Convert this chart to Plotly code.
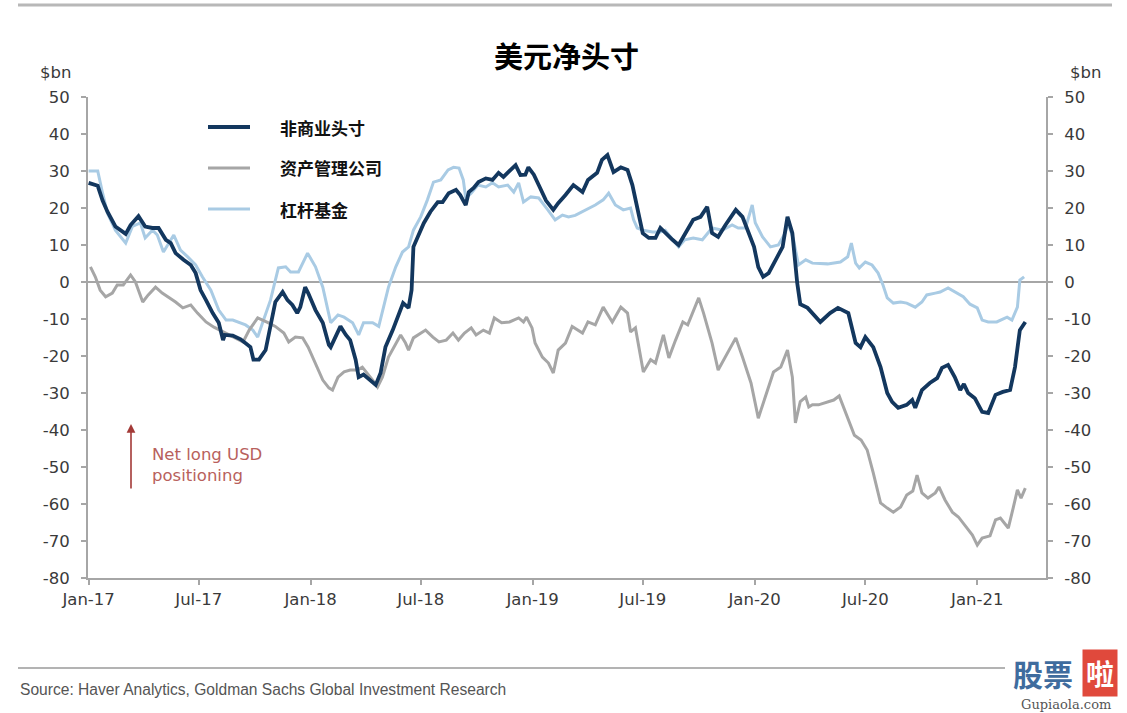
import plotly.graph_objects as go

# ---------------- data ----------------
ncp_dates = ["2017-01-01","2017-01-16","2017-01-24","2017-02-01","2017-02-14","2017-03-03","2017-03-11","2017-03-24",
"2017-04-04","2017-04-16","2017-04-26","2017-05-08","2017-05-16","2017-05-24","2017-06-06","2017-06-18","2017-06-26",
"2017-07-04","2017-07-13","2017-07-24","2017-08-03","2017-08-10","2017-08-13","2017-08-26","2017-09-08","2017-09-16",
"2017-09-24","2017-09-29","2017-10-08","2017-10-19","2017-10-27","2017-11-04","2017-11-16","2017-11-24","2017-12-02",
"2017-12-10","2017-12-15","2017-12-23","2017-12-28","2018-01-09","2018-01-21","2018-01-31","2018-02-03","2018-02-11",
"2018-02-19","2018-02-28","2018-03-07","2018-03-16","2018-03-21","2018-03-29","2018-04-06","2018-04-18","2018-04-26",
"2018-05-04","2018-05-16","2018-05-24","2018-06-02","2018-06-11","2018-06-16","2018-06-19","2018-06-26","2018-07-06",
"2018-07-17","2018-07-29","2018-08-06","2018-08-16","2018-08-28","2018-09-04","2018-09-13","2018-09-18","2018-09-26",
"2018-10-04","2018-10-16","2018-10-27","2018-11-06","2018-11-14","2018-11-22","2018-12-04","2018-12-12","2018-12-20",
"2018-12-25","2019-01-03","2019-01-11","2019-01-23","2019-02-04","2019-02-12","2019-02-24","2019-03-09","2019-03-24",
"2019-04-02","2019-04-17","2019-04-25","2019-05-04","2019-05-14","2019-05-26","2019-06-06","2019-06-14","2019-06-22",
"2019-07-01","2019-07-11","2019-07-22","2019-07-30","2019-08-07","2019-08-19","2019-08-29","2019-09-08","2019-09-22",
"2019-10-04","2019-10-15","2019-10-23","2019-11-02","2019-11-14","2019-12-01","2019-12-12","2019-12-22","2019-12-31",
"2020-01-07","2020-01-15","2020-01-24","2020-02-04","2020-02-16","2020-02-24","2020-03-03","2020-03-11","2020-03-16",
"2020-03-28","2020-04-10","2020-04-18","2020-05-04","2020-05-17","2020-06-03","2020-06-15","2020-06-23","2020-07-01",
"2020-07-14","2020-07-26","2020-08-06","2020-08-14","2020-08-24","2020-09-07","2020-09-16","2020-09-21","2020-10-02",
"2020-10-15","2020-10-27","2020-11-04","2020-11-14","2020-11-25","2020-12-04","2020-12-10","2020-12-17","2020-12-28",
"2021-01-09","2021-01-19","2021-01-31","2021-02-12","2021-02-24","2021-03-04","2021-03-12","2021-03-21"]
ncp_values = [26.8,26,22,19,15,13,15.4,17.8,
15,14.6,14.6,11.4,10.5,7.8,6,4.6,2.4,
-2.2,-4.9,-8.4,-11,-15.7,-14.3,-14.5,-15.5,-16.5,
-17.6,-21,-21,-18.4,-12,-5.4,-2.7,-4.9,-6.2,
-8.4,-6.8,-1.4,-3,-7.6,-11,-17,-17.6,-15,
-12,-14.3,-15.7,-21,-25.7,-25,-26,-27.8,-24.6,
-17.6,-13,-9.5,-5.7,-7,-2.2,9.5,12.2,15.9,
19,21.6,21.6,24,24.9,23.5,20.8,24.3,25.4,
27,28,27.6,29.5,28.4,29.7,31.6,28.9,29,
31,29,26.2,22,19.5,21.3,23.5,26.2,24.3,
27.6,29.5,33,34.3,29.7,31,30.3,26.2,19.5,
13.2,11.9,11.9,14.6,13.2,11.4,10,12.7,16.8,
17.6,20.3,13.2,12.2,15.4,19.5,17.6,13.2,9.5,
4,1.4,2.4,6,9.5,17.6,13.2,-0.3,-6,
-7,-9.5,-10.8,-8.4,-7,-8.4,-16.5,-17.6,-14.9,
-17.6,-23,-30,-32.4,-34,-33.2,-31.9,-34,-29.2,
-27.3,-26,-23.2,-22.4,-25.7,-29.2,-27.6,-30,-31.4,
-35.1,-35.4,-30.5,-29.7,-29.2,-23,-13,-10.8]

am_dates = ["2017-01-04","2017-01-12","2017-01-20","2017-01-29","2017-02-09","2017-02-17","2017-02-27","2017-03-11",
"2017-03-19","2017-03-31","2017-04-09","2017-04-21","2017-05-02","2017-05-12","2017-05-24","2017-06-05","2017-06-18",
"2017-06-29","2017-07-13","2017-07-26","2017-08-10","2017-08-26","2017-09-12","2017-09-22","2017-10-06","2017-10-23",
"2017-11-04","2017-11-18","2017-11-26","2017-12-07","2017-12-19","2017-12-28","2018-01-09","2018-01-21","2018-01-31",
"2018-02-06","2018-02-15","2018-02-25","2018-03-07","2018-03-19","2018-03-27","2018-04-04","2018-04-13","2018-04-21",
"2018-04-29","2018-05-09","2018-05-21","2018-05-29","2018-06-06","2018-06-11","2018-06-19","2018-07-01","2018-07-09",
"2018-07-21","2018-07-31","2018-08-12","2018-08-23","2018-09-01","2018-09-11","2018-09-22","2018-09-30","2018-10-12",
"2018-10-22","2018-10-30","2018-11-11","2018-11-24","2018-12-09","2018-12-17","2018-12-22","2018-12-31","2019-01-05",
"2019-01-17","2019-01-27","2019-02-04","2019-02-12","2019-02-24","2019-03-07","2019-03-24","2019-04-02","2019-04-14",
"2019-04-27","2019-05-12","2019-05-26","2019-06-06","2019-06-11","2019-06-19","2019-07-02","2019-07-14","2019-07-22",
"2019-08-04","2019-08-13","2019-08-24","2019-09-05","2019-09-13","2019-09-21","2019-10-01","2019-10-09","2019-10-23",
"2019-11-02","2019-11-14","2019-12-01","2019-12-12","2019-12-26","2020-01-07","2020-01-19","2020-02-01","2020-02-13",
"2020-02-24","2020-03-03","2020-03-08","2020-03-16","2020-03-25","2020-03-30","2020-04-05","2020-04-15","2020-04-30",
"2020-05-10","2020-05-19","2020-06-02","2020-06-13","2020-06-24","2020-07-04","2020-07-14","2020-07-26","2020-08-06",
"2020-08-16","2020-08-28","2020-09-07","2020-09-17","2020-09-24","2020-10-02","2020-10-12","2020-10-24","2020-10-30",
"2020-11-09","2020-11-21","2020-12-01","2020-12-12","2020-12-24","2021-01-01","2021-01-09","2021-01-22","2021-01-31",
"2021-02-08","2021-02-21","2021-03-01","2021-03-08","2021-03-14","2021-03-21"]
am_values = [4.1,1.4,-2.2,-4,-3,-0.8,-0.8,1.9,
0,-5.4,-3.5,-1.4,-3,-4,-5.4,-7,-6.2,
-8.4,-10.8,-12.2,-13.5,-14.9,-16.2,-13,-9.7,-11,
-12,-13.8,-16.2,-14.9,-15.1,-17.6,-21.9,-26.5,-28.6,
-29.2,-25.7,-24.3,-23.8,-23.8,-23,-24.6,-26.5,-28.4,
-25.7,-20.3,-16.5,-14.3,-16.5,-18.4,-15.1,-13.8,-13,
-14.9,-16.2,-15.7,-13.8,-15.7,-13.8,-12.4,-14.3,-13,
-13.8,-9.7,-11,-10.8,-9.7,-10.8,-9.5,-12.4,-16.5,
-20.3,-21.9,-24.6,-18.4,-16.5,-12,-13.8,-10.8,-11.6,
-6.8,-10.8,-6.8,-8.4,-13.5,-12.4,-24.3,-21,-21.9,
-14.3,-20.5,-15.7,-10.8,-11.6,-8.4,-4.3,-8.4,-16.5,
-23.8,-20.3,-15.1,-20.3,-27.3,-36.8,-31.1,-24.3,-23,
-18.4,-25.7,-38.1,-32.3,-31.1,-33.8,-33.2,-33.2,-32.4,
-31.9,-30.8,-36.5,-41.4,-42.7,-45.4,-51.6,-59.7,-61.1,
-62.2,-60.8,-57.6,-56.5,-52.2,-57,-58.4,-57,-55.4,
-58.9,-62.2,-63.5,-65.7,-68.4,-71.1,-69.2,-68.6,-64.3,
-63.8,-66.5,-61.1,-56.2,-58.4,-55.7]

lev_dates = ["2017-01-01","2017-01-16","2017-01-24","2017-02-01","2017-02-14","2017-03-03","2017-03-14","2017-03-27",
"2017-04-04","2017-04-16","2017-04-24","2017-05-04","2017-05-21","2017-06-01","2017-06-13","2017-06-26","2017-07-07",
"2017-07-21","2017-08-03","2017-08-15","2017-08-26","2017-09-05","2017-09-16","2017-09-28","2017-10-06","2017-10-14",
"2017-10-27","2017-11-09","2017-11-21","2017-11-29","2017-12-12","2017-12-27","2018-01-09","2018-01-21","2018-01-31",
"2018-02-03","2018-02-15","2018-02-25","2018-03-11","2018-03-21","2018-03-29","2018-04-13","2018-04-23","2018-05-01",
"2018-05-09","2018-05-21","2018-06-01","2018-06-11","2018-06-19","2018-07-01","2018-07-12","2018-07-22","2018-08-03",
"2018-08-15","2018-08-24","2018-09-02","2018-09-09","2018-09-13","2018-09-22","2018-10-03","2018-10-16","2018-10-27",
"2018-11-06","2018-11-21","2018-12-01","2018-12-09","2018-12-17","2018-12-29","2019-01-11","2019-01-26","2019-02-07",
"2019-02-19","2019-03-01","2019-03-12","2019-03-29","2019-04-14","2019-04-27","2019-05-06","2019-05-17","2019-05-30",
"2019-06-11","2019-06-16","2019-06-22","2019-07-02","2019-07-17","2019-07-30","2019-08-07","2019-08-19","2019-08-29",
"2019-09-08","2019-09-22","2019-10-07","2019-10-23","2019-11-09","2019-11-25","2019-12-05","2019-12-17","2019-12-28",
"2020-01-02","2020-01-14","2020-01-27","2020-02-09","2020-02-20","2020-02-25","2020-03-05","2020-03-13","2020-03-25",
"2020-04-05","2020-04-18","2020-04-30","2020-05-21","2020-06-02","2020-06-08","2020-06-15","2020-06-21","2020-07-01",
"2020-07-12","2020-07-22","2020-07-30","2020-08-06","2020-08-16","2020-08-28","2020-09-07","2020-09-21","2020-10-02",
"2020-10-10","2020-10-24","2020-11-01","2020-11-14","2020-11-29","2020-12-09","2020-12-20","2021-01-01","2021-01-09",
"2021-01-19","2021-02-02","2021-02-12","2021-02-19","2021-02-27","2021-03-08","2021-03-12","2021-03-19"]
lev_values = [30,30,24,18.6,14,10.5,15,16,
11.9,14,12.7,8.1,12.7,8.6,6.8,4.6,1.4,
-2.2,-7.6,-10.3,-10.3,-11,-11.6,-13,-14.9,-11,
-4.9,3.8,4.1,2.7,2.7,7.8,4.1,-1.4,-9.5,
-11,-8.9,-9.5,-11,-14.3,-11,-11,-12,-6.8,
-1.4,4.1,8.1,9.5,14,17.6,22.2,27,27.6,
30.3,31,30.8,27.6,22.7,24,26.2,25.7,26.8,
25.7,26.2,24.3,26.8,21.6,23,22.7,19.5,16.8,
18.1,17.6,18,19.5,20.8,22.2,24,20.8,19.5,
20,16.8,14.6,14,13.5,13.5,14,11.4,9.5,
11.4,11.9,11.4,14.6,14,15.4,14.6,14.6,20.8,
16,12.2,9.5,10,13.2,16,11.4,4.6,6,
5.1,4.9,4.9,5.4,6.8,10.5,5.1,3.8,5.4,
4.6,2.4,-0.8,-4.3,-5.7,-5.4,-5.7,-6.8,-5.4,
-3.5,-3,-2.7,-1.6,-3,-4,-6,-7,-10.3,
-10.8,-10.8,-10,-9.5,-10.3,-6.8,0.5,1.4]

series_names = ["非商业头寸", "资产管理公司", "杠杆基金"]
series_colors = ["#13375e", "#a6a6a6", "#a9cbe4"]

tick_dates = ["2017-01-01","2017-07-01","2018-01-01","2018-07-01","2019-01-01","2019-07-01",
              "2020-01-01","2020-07-01","2021-01-01"]
tick_labels = ["Jan-17","Jul-17","Jan-18","Jul-18","Jan-19","Jul-19","Jan-20","Jul-20","Jan-21"]
y_ticks = [-80, -70, -60, -50, -40, -30, -20, -10, 0, 10, 20, 30, 40, 50]
y_tick_labels = ["-80", "-70", "-60", "-50", "-40", "-30", "-20", "-10", "0", "10", "20", "30", "40", "50"]

title_text = "美元净头寸"
source_text = "Source: Haver Analytics, Goldman Sachs Global Investment Research"

# ---------------- figure ----------------
fig = go.Figure()
fig.add_trace(go.Scatter(x=lev_dates, y=lev_values, mode="lines", name=series_names[2],
                         line=dict(color=series_colors[2], width=3), showlegend=False))
fig.add_trace(go.Scatter(x=am_dates, y=am_values, mode="lines", name=series_names[1],
                         line=dict(color=series_colors[1], width=3), showlegend=False))
fig.add_trace(go.Scatter(x=ncp_dates, y=ncp_values, mode="lines", name=series_names[0],
                         line=dict(color=series_colors[0], width=3.8), showlegend=False))

W, H = 1127, 713
L, R, T, B = 88, 81, 97, 135
pw, ph = W - L - R, H - T - B

def px(x):
    return (x - L) / pw

def py(y):
    return (H - B - y) / ph

axis_font = dict(family="DejaVu Sans, Liberation Sans, sans-serif", size=16.5, color="#3a3a3a")

fig.update_layout(
    width=W, height=H, autosize=False,
    margin=dict(l=L, r=R, t=T, b=B),
    paper_bgcolor="white", plot_bgcolor="white",
    showlegend=False,
    xaxis=dict(type="date", range=["2016-12-31", "2021-04-24"],
               tickvals=tick_dates, ticktext=tick_labels,
               showgrid=False, zeroline=False,
               showline=True, linecolor="#a6a6a6", linewidth=2,
               ticks="outside", ticklen=5, tickcolor="#a6a6a6", tickwidth=1.5,
               tickfont=axis_font),
    yaxis=dict(range=[-80, 50], tickvals=y_ticks, ticktext=y_tick_labels,
               showgrid=False, zeroline=True, zerolinecolor="#a6a6a6", zerolinewidth=1.5,
               showline=True, linecolor="#a6a6a6", linewidth=2,
               ticks="outside", ticklen=5, tickcolor="#a6a6a6", tickwidth=1.5,
               ticklabelstandoff=8, tickfont=axis_font),
    yaxis2=dict(range=[-80, 50], tickvals=y_ticks, ticktext=y_tick_labels,
                overlaying="y", side="right", anchor="x",
                showgrid=False, zeroline=False,
                showline=True, linecolor="#a6a6a6", linewidth=2,
                ticks="outside", ticklen=5, tickcolor="#a6a6a6", tickwidth=1.5,
                ticklabelstandoff=8, tickfont=axis_font),
)
# invisible trace so that the right axis is attached
fig.add_trace(go.Scatter(x=[ncp_dates[0]], y=[ncp_values[0]], yaxis="y2", mode="lines",
                         line=dict(width=0), hoverinfo="skip", showlegend=False))

shapes = []
annotations = []

# top and bottom rules
shapes.append(dict(type="line", xref="paper", yref="paper", x0=px(18), x1=px(1112), y0=py(5), y1=py(5),
                   line=dict(color="#b8b8b8", width=3)))
shapes.append(dict(type="line", xref="paper", yref="paper", x0=px(18), x1=px(1005), y0=py(668), y1=py(668),
                   line=dict(color="#9a9a9a", width=1.5)))

# title
annotations.append(dict(text=f"<b>{title_text}</b>", xref="paper", yref="paper", x=px(566), y=py(55),
                        showarrow=False, xanchor="center", yanchor="middle",
                        font=dict(family="Noto Sans CJK SC", size=29, color="#000000")))
# $bn labels
for xx in (55, 1085):
    annotations.append(dict(text="$bn", xref="paper", yref="paper", x=px(xx), y=py(72),
                            showarrow=False, xanchor="center", yanchor="middle", font=axis_font))

# legend (manual)
leg_y = [127, 168, 209]
leg_w = [3.8, 3, 3]
for name, col, yy, lw in zip(series_names, series_colors, leg_y, leg_w):
    shapes.append(dict(type="line", xref="paper", yref="paper", x0=px(208), x1=px(250),
                       y0=py(yy), y1=py(yy), line=dict(color=col, width=lw)))
    annotations.append(dict(text=f"<b>{name}</b>", xref="paper", yref="paper", x=px(278), y=py(yy),
                            showarrow=False, xanchor="left", yanchor="middle",
                            font=dict(family="Noto Sans CJK SC", size=17, color="#111111")))

# Net long USD positioning arrow + text
annotations.append(dict(text="", xref="paper", yref="paper", x=px(131), y=py(424),
                        ax=0, ay=66, showarrow=True, arrowhead=2, arrowsize=1.1, arrowwidth=1.6,
                        arrowcolor="#a33a37"))
annotations.append(dict(text="Net long USD<br>positioning", xref="paper", yref="paper",
                        x=px(150), y=py(465), showarrow=False, xanchor="left", yanchor="middle",
                        align="left",
                        font=dict(family="DejaVu Sans, Liberation Sans, sans-serif", size=16.5,
                                  color="#b8615c")))

# source
annotations.append(dict(text=source_text, xref="paper", yref="paper", x=px(18), y=py(689),
                        showarrow=False, xanchor="left", yanchor="middle",
                        font=dict(family="Liberation Sans Narrow, Liberation Sans, sans-serif",
                                  size=15.6, color="#555555")))

# watermark
annotations.append(dict(text="<b>股票</b>", xref="paper", yref="paper", x=px(1043), y=py(673),
                        showarrow=False, xanchor="center", yanchor="middle",
                        font=dict(family="Noto Sans CJK SC", size=30, color="#3f6c9e")))
annotations.append(dict(text="<b>啦</b>", xref="paper", yref="paper", x=px(1100), y=py(673),
                        showarrow=False, xanchor="center", yanchor="middle", bgcolor="#e0493c",
                        borderpad=3,
                        font=dict(family="Noto Sans CJK SC", size=28, color="#ffffff")))
annotations.append(dict(text="Gupiaola.com", xref="paper", yref="paper", x=px(1066), y=py(704),
                        showarrow=False, xanchor="center", yanchor="middle",
                        font=dict(family="DejaVu Serif, serif", size=13, color="#555555")))

fig.update_layout(shapes=shapes, annotations=annotations)

fig.write_html("out.html", config={"displayModeBar": False},
               post_script="document.body.style.margin='0px';document.body.style.padding='0px';")
